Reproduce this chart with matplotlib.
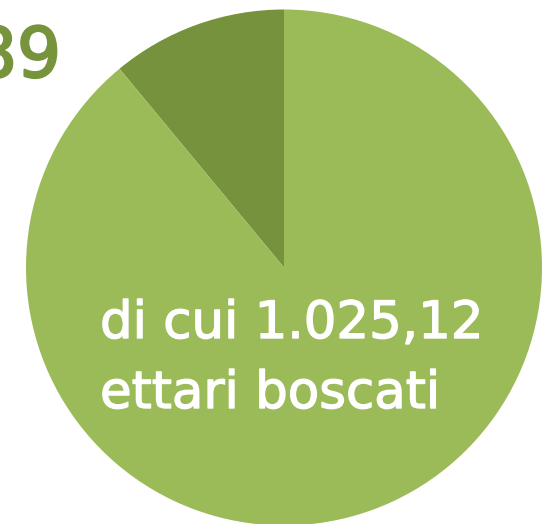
import matplotlib
matplotlib.use("Agg")
import matplotlib.pyplot as plt
import matplotlib.patheffects as pe

# data
labels = ["non boscati", "boscati"]
values = [126.77, 1025.12]
colors = ["#76923C", "#9BBB59"]
total_label = "1.151,89"
line1 = "di cui 1.025,12"
line2 = "ettari boscati"

W, H = 552, 524
fig = plt.figure(figsize=(W / 100, H / 100), dpi=100)
ax = fig.add_axes([0, 0, 1, 1])

cx, cy, r = 284, H - 267.5, 258
ax.pie(values, colors=colors, startangle=90, counterclock=True,
       center=(cx, cy), radius=r, frame=True,
       wedgeprops=dict(linewidth=0))
ax.set_xlim(0, W)
ax.set_ylim(0, H)
ax.set_aspect("equal")
ax.axis("off")

ax.text(61, H - 77, total_label, ha="right", va="baseline",
        fontsize=50, color="#77933C", family="DejaVu Sans",
        path_effects=[pe.withStroke(linewidth=1.6, foreground="#77933C")])

for txt, base in [(line1, 338), (line2, 408)]:
    ax.text(100, H - base, txt, ha="left", va="baseline",
            fontsize=37, color="white", family="DejaVu Sans",
            path_effects=[pe.withStroke(linewidth=1.0, foreground="white")])

fig.savefig("out.png", dpi=100)
